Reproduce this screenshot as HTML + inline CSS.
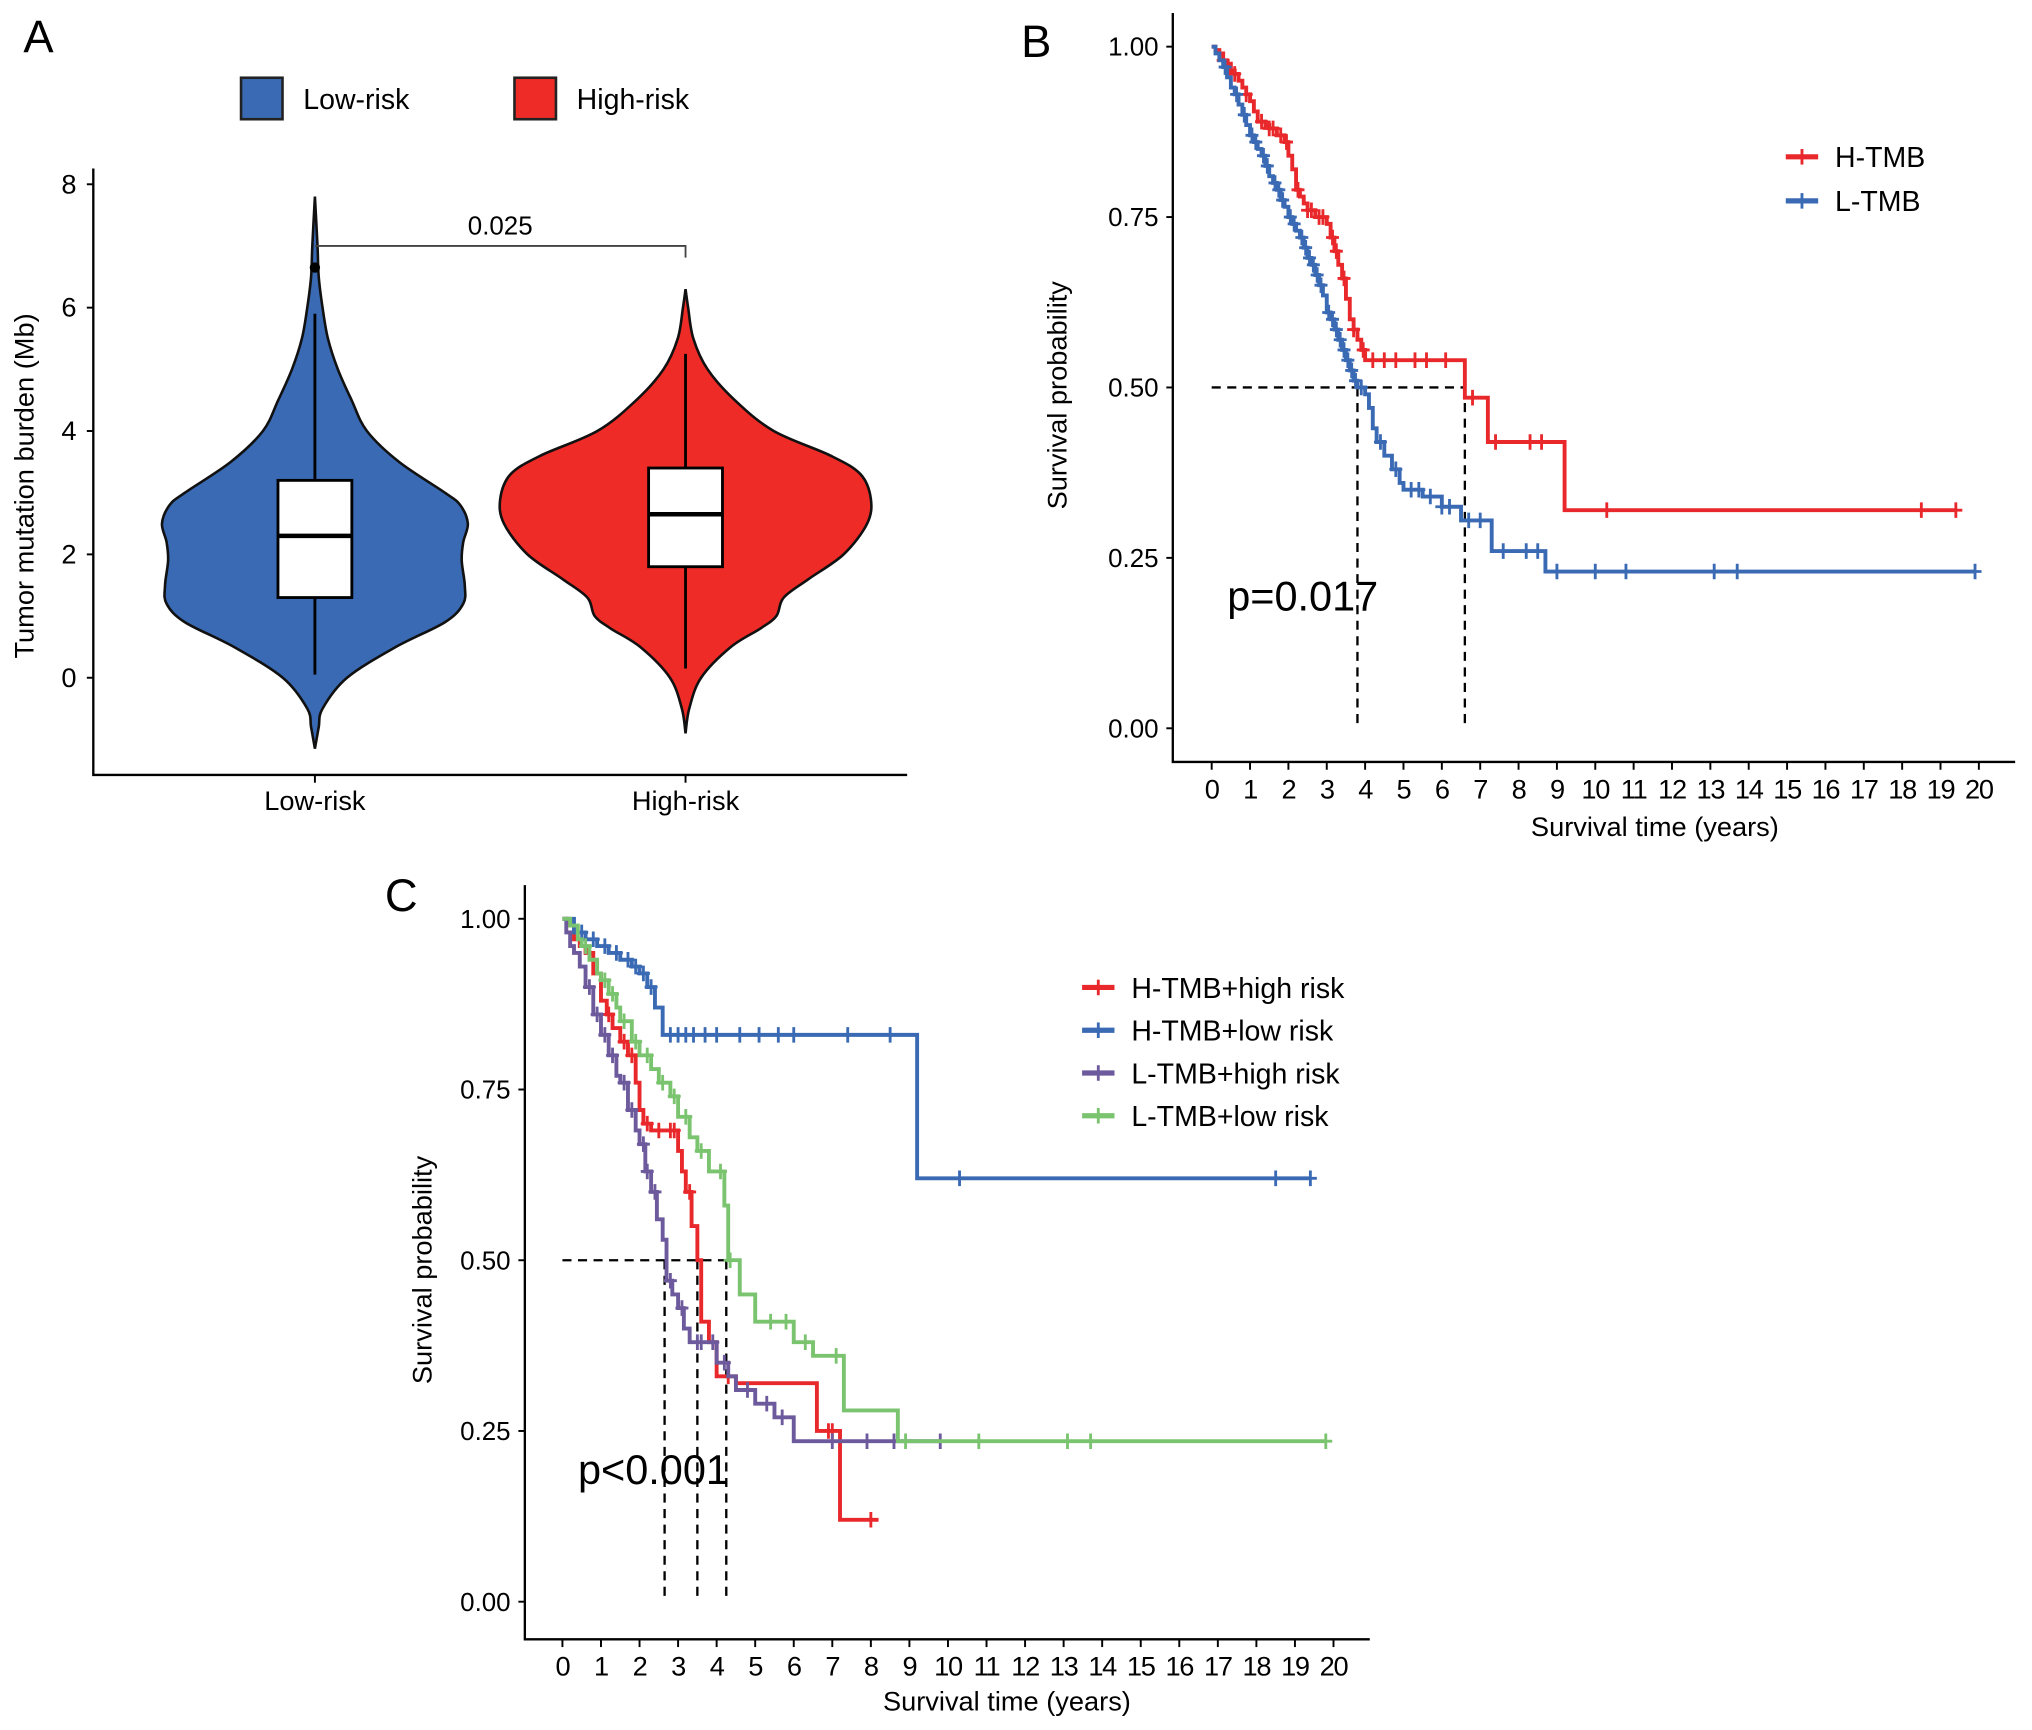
<!DOCTYPE html>
<html><head><meta charset="utf-8"><style>
html,body{margin:0;padding:0;background:#fff;}
svg{display:block;font-family:"Liberation Sans",Arial,sans-serif;}
</style></head><body>
<svg id="fig" width="2032" height="1730" viewBox="0 0 1568 1335" preserveAspectRatio="none" xmlns="http://www.w3.org/2000/svg">
<rect width="1568" height="1335" fill="#fff"/>
</svg>
<script>
// ---------- Panel A data ----------
const violinGroups = ["Low-risk","High-risk"];
const lowViolinVals = [-1.15,-0.8,-0.5,0,0.5,0.9,1.2,1.5,1.9,2.2,2.5,2.8,3.0,3.5,4,4.5,5,5.5,6,6.5,7,7.8];
const lowViolinDens = [0,0.025,0.05,0.21,0.53,0.85,0.97,0.98,0.96,0.97,1.0,0.95,0.85,0.55,0.34,0.24,0.15,0.085,0.05,0.025,0.017,0];
const highViolinVals = [-0.9,-0.5,0,0.5,0.8,1.0,1.3,1.6,2,2.5,2.9,3.3,3.6,4,4.5,5,5.5,6,6.3];
const highViolinDens = [0,0.02,0.084,0.245,0.405,0.49,0.53,0.664,0.853,0.98,1.0,0.944,0.783,0.476,0.266,0.119,0.042,0.014,0];
const boxQ1 = [1.3,1.8], boxMed = [2.3,2.65], boxQ3 = [3.2,3.4];
const whiskLo = [0.05,0.15], whiskHi = [5.9,5.25];
const outliers = [6.65];
const yTicksA = [0,2,4,6,8];
const pValueA = "0.025";

// ---------- Panel B data ----------
const bHT_t = [0.1,0.2,0.3,0.4,0.5,0.6,0.7,0.8,0.9,1.0,1.1,1.2,1.4,1.5,1.7,1.9,2.0,2.1,2.2,2.3,2.4,2.5,2.7,3.0,3.1,3.2,3.3,3.4,3.5,3.6,3.7,3.8,3.9,4.0,6.6,7.2,9.2];
const bHT_s = [0.995,0.99,0.98,0.975,0.965,0.96,0.95,0.94,0.93,0.92,0.905,0.89,0.885,0.88,0.87,0.86,0.84,0.82,0.79,0.78,0.77,0.76,0.75,0.74,0.72,0.70,0.68,0.66,0.63,0.60,0.585,0.57,0.555,0.54,0.485,0.42,0.32];
const bHT_end = 19.4;
const bHT_cens = [0.3,0.6,0.9,1.3,1.5,1.6,1.8,1.95,2.25,2.5,2.6,2.8,2.9,3.15,3.25,3.45,3.7,3.95,4.2,4.5,4.8,5.3,5.6,6.1,6.8,7.4,8.3,8.6,10.3,18.5,19.4];
const bLT_t = [0.1,0.2,0.3,0.4,0.5,0.6,0.7,0.8,0.9,1.0,1.1,1.2,1.3,1.4,1.5,1.6,1.7,1.8,1.9,2.0,2.1,2.2,2.3,2.4,2.5,2.6,2.7,2.8,2.9,3.0,3.1,3.2,3.3,3.4,3.5,3.6,3.7,3.8,4.0,4.1,4.2,4.3,4.5,4.7,4.9,5.0,5.5,6.0,6.5,7.3,8.7];
const bLT_s = [0.99,0.98,0.97,0.955,0.94,0.93,0.915,0.90,0.885,0.87,0.86,0.85,0.84,0.825,0.81,0.80,0.79,0.775,0.765,0.75,0.74,0.73,0.72,0.705,0.69,0.68,0.665,0.65,0.635,0.61,0.60,0.585,0.57,0.555,0.54,0.525,0.51,0.50,0.49,0.47,0.44,0.42,0.40,0.38,0.36,0.35,0.34,0.325,0.305,0.26,0.23];
const bLT_end = 19.9;
const bLT_cens = [0.35,0.65,0.85,1.05,1.15,1.35,1.45,1.65,1.75,1.85,2.05,2.15,2.35,2.45,2.55,2.65,2.75,2.85,3.05,3.15,3.25,3.35,3.45,3.55,3.65,3.75,3.9,4.4,4.8,5.2,5.4,5.7,6.0,6.2,6.7,7.0,7.6,8.2,8.5,9.0,10.0,10.8,13.1,13.7,19.9];
const bMedians = [3.8,6.6];
const xTicksKM = [0,1,2,3,4,5,6,7,8,9,10,11,12,13,14,15,16,17,18,19,20];
const yTicksKM = ["0.00","0.25","0.50","0.75","1.00"];

// ---------- Panel C data ----------
const cHH_t = [0.15,0.3,0.45,0.6,0.8,1.0,1.15,1.3,1.5,1.7,1.9,2.0,2.1,2.3,3.0,3.1,3.2,3.35,3.5,3.6,3.8,4.0,4.5,6.6,7.2];
const cHH_s = [0.99,0.97,0.96,0.95,0.92,0.88,0.86,0.84,0.82,0.80,0.76,0.72,0.70,0.69,0.66,0.63,0.60,0.55,0.50,0.41,0.38,0.33,0.32,0.25,0.12];
const cHH_end = 8.2; const cHH_cens = [1.2,1.6,1.8,2.2,2.5,2.8,2.9,3.3,4.3,6.9,7.0,8.0];
const cHL_t = [0.3,0.6,0.9,1.2,1.5,1.8,2.0,2.2,2.4,2.6,9.2];
const cHL_s = [0.98,0.97,0.96,0.95,0.94,0.93,0.92,0.90,0.87,0.83,0.62];
const cHL_end = 19.4; const cHL_cens = [0.5,0.8,1.1,1.4,1.7,1.9,2.1,2.3,2.8,3.0,3.2,3.4,3.7,4.0,4.6,5.1,5.6,6.0,7.4,8.5,10.3,18.5,19.4];
const cLH_t = [0.1,0.2,0.3,0.45,0.6,0.8,1.0,1.2,1.4,1.5,1.7,1.9,2.0,2.15,2.3,2.45,2.6,2.7,2.85,3.0,3.15,3.3,4.0,4.3,4.5,5.0,5.5,6.0];
const cLH_s = [0.98,0.96,0.95,0.93,0.90,0.86,0.83,0.80,0.77,0.76,0.72,0.69,0.67,0.63,0.60,0.56,0.53,0.47,0.45,0.43,0.40,0.38,0.35,0.33,0.31,0.29,0.27,0.235];
const cLH_end = 9.8; const cLH_cens = [0.7,0.9,1.1,1.3,1.6,1.8,2.1,2.2,2.4,2.8,3.1,3.5,3.6,3.9,4.2,4.8,5.3,5.7,7.0,7.9,8.6,9.8];
const cLL_t = [0.2,0.4,0.5,0.7,0.9,1.0,1.2,1.4,1.5,1.8,2.0,2.3,2.5,2.8,3.0,3.3,3.5,3.8,4.2,4.3,4.6,5.0,6.0,6.5,7.3,8.7];
const cLL_s = [0.99,0.97,0.96,0.94,0.92,0.91,0.89,0.87,0.85,0.82,0.80,0.78,0.76,0.74,0.71,0.68,0.66,0.63,0.58,0.50,0.45,0.41,0.38,0.36,0.28,0.235];
const cLL_end = 19.8; const cLL_cens = [0.6,1.1,1.3,1.6,1.9,2.2,2.6,2.9,3.2,3.6,4.1,4.35,5.4,5.8,6.3,7.1,8.9,10.8,13.1,13.7,19.8];
const cMedians = [2.65,3.5,4.25];

const NS="http://www.w3.org/2000/svg";
const svg=document.getElementById('fig');
function mk(tag,attrs,parent,txt){const e=document.createElementNS(NS,tag);for(const k in attrs)e.setAttribute(k,attrs[k]);if(txt!==undefined)e.textContent=txt;(parent||svg).appendChild(e);return e;}

// ===== Panel A =====
const gA=mk('g',{});  
const ayA=v=>523-47.6*v;
const axA=i=>[243,529][i];
let t=mk('text',{x:18,y:40,'font-size':35},gA,'A');  
const legColsA=['#3a6ab4','#ee2b27'];
violinGroups.forEach((g,i)=>{
  const lx=[186,397][i];
  const le=mk('g',{},gA);  
  mk('rect',{x:lx,y:60,width:32,height:32,fill:legColsA[i],stroke:'#222','stroke-width':2},le);
  mk('text',{x:lx+48,y:84,'font-size':22},le,g);
});
let ax=mk('path',{d:'M72 130 V598 H700',fill:'none',stroke:'#000','stroke-width':1.8},gA);  
yTicksA.forEach(v=>{mk('line',{x1:67,x2:72,y1:ayA(v),y2:ayA(v),stroke:'#000','stroke-width':1.5},gA);
  const tl=mk('text',{x:59,y:ayA(v)+7,'font-size':21,'text-anchor':'end'},gA,String(v));  });
t=mk('text',{x:0,y:0,'font-size':21,'text-anchor':'middle',transform:'translate(26,375) rotate(-90)'},gA,'Tumor mutation burden (Mb)');  
violinGroups.forEach((g,i)=>{mk('line',{x1:axA(i),x2:axA(i),y1:598,y2:604,stroke:'#000','stroke-width':1.5},gA);
  const tl=mk('text',{x:axA(i),y:625,'font-size':21,'text-anchor':'middle'},gA,g);  });
function smoothPath(pts){let d='M'+pts[0][0]+' '+pts[0][1];for(let i=0;i<pts.length-1;i++){const p0=pts[Math.max(0,i-1)],p1=pts[i],p2=pts[i+1],p3=pts[Math.min(pts.length-1,i+2)];
  d+=` C${p1[0]+(p2[0]-p0[0])/6} ${p1[1]+(p2[1]-p0[1])/6} ${p2[0]-(p3[0]-p1[0])/6} ${p2[1]-(p3[1]-p1[1])/6} ${p2[0]} ${p2[1]}`;}return d;}
const maxHalf=[118,143];
[[lowViolinVals,lowViolinDens],[highViolinVals,highViolinDens]].forEach((vd,i)=>{
  const cx=axA(i),vals=vd[0],dens=vd[1];
  const right=vals.map((v,j)=>[cx+dens[j]*maxHalf[i],ayA(v)]);
  const left=vals.map((v,j)=>[cx-dens[j]*maxHalf[i],ayA(v)]).reverse();
  const d=smoothPath(right)+' '+smoothPath(left).replace('M','L')+' Z';
  const vp=mk('path',{d:d,fill:legColsA[i],stroke:'#111','stroke-width':2},gA);  
  const bw=28.5;
  const wl=mk('line',{x1:cx,x2:cx,y1:ayA(whiskLo[i]),y2:ayA(whiskHi[i]),stroke:'#000','stroke-width':2.2},gA);  
  const br=mk('rect',{x:cx-bw,y:ayA(boxQ3[i]),width:bw*2,height:ayA(boxQ1[i])-ayA(boxQ3[i]),fill:'#fff',stroke:'#000','stroke-width':2.2},gA);  
  const ml=mk('line',{x1:cx-bw,x2:cx+bw,y1:ayA(boxMed[i]),y2:ayA(boxMed[i]),stroke:'#000','stroke-width':3.5},gA);  
});
outliers.forEach(o=>{const c=mk('circle',{cx:axA(0),cy:ayA(o),r:4,fill:'#000'},gA);  });
let br=mk('path',{d:`M${axA(0)} ${ayA(7)} H${axA(1)} V${ayA(7)+9}`,fill:'none',stroke:'#444','stroke-width':1.4},gA);  
t=mk('text',{x:(axA(0)+axA(1))/2,y:181,'font-size':20,'text-anchor':'middle'},gA,pValueA);  

// ===== KM helper =====
function kmPanel(opt){
  const g=mk('g',{});  
  const x=v=>opt.x0+(opt.x20-opt.x0)*v/20, y=s=>opt.y0-(opt.y0-opt.y1)*s;
  let l=mk('text',{x:opt.lab[0],y:opt.lab[1],'font-size':35},g,opt.letter);  
  let a=mk('path',{d:`M${opt.ax} ${opt.atop} V${opt.ay} H${opt.aright}`,fill:'none',stroke:'#000','stroke-width':1.8},g);  
  yTicksKM.forEach(s=>{const v=parseFloat(s);mk('line',{x1:opt.ax-5,x2:opt.ax,y1:y(v),y2:y(v),stroke:'#000','stroke-width':1.5},g);
    const tl=mk('text',{x:opt.ax-11,y:y(v)+7,'font-size':20,'text-anchor':'end'},g,s);  });
  xTicksKM.forEach(v=>{mk('line',{x1:x(v),x2:x(v),y1:opt.ay,y2:opt.ay+6,stroke:'#000','stroke-width':1.5},g);
    const tl=mk('text',{x:x(v),y:opt.ay+28,'font-size':21,'text-anchor':'middle','letter-spacing':'-1'},g,String(v));  });
  let xt=mk('text',{x:opt.xt[0],y:opt.xt[1],'font-size':21,'text-anchor':'middle'},g,'Survival time (years)');  
  let yt=mk('text',{x:0,y:0,'font-size':21,'text-anchor':'middle',transform:`translate(${opt.yt[0]},${opt.yt[1]}) rotate(-90)`},g,'Survival probability');  
  const mx=Math.max(...opt.medians);
  let dh=mk('line',{x1:x(0),x2:x(mx),y1:y(0.5),y2:y(0.5),stroke:'#000','stroke-width':1.8,'stroke-dasharray':'7 5'},g);  
  opt.medians.forEach(m=>{const dv=mk('line',{x1:x(m),x2:x(m),y1:y(0.5),y2:y(0),stroke:'#000','stroke-width':1.8,'stroke-dasharray':'7 5'},g);  });
  opt.series.forEach(se=>{
    let d=`M${x(0)} ${y(1)}`;
    se.t.forEach((tt,i)=>{d+=` H${x(tt)} V${y(se.s[i])}`;});
    d+=` H${x(se.end)}`;
    const p=mk('path',{d:d,fill:'none',stroke:se.col,'stroke-width':3},g);  
    const S=tt=>{let v=1;se.t.forEach((q,i)=>{if(q<=tt)v=se.s[i];});return v;};
    se.cens.forEach(c=>{const cx=x(c),cy=y(S(c));
      const m=mk('path',{d:`M${cx-5} ${cy} H${cx+5} M${cx} ${cy-6} V${cy+6}`,stroke:se.col,'stroke-width':2.2},g);  });
  });
  opt.series.forEach((se,i)=>{
    const ly=opt.leg[1]+i*opt.leg[2];
    const le=mk('g',{},g);  
    mk('line',{x1:opt.leg[0],x2:opt.leg[0]+25,y1:ly,y2:ly,stroke:se.col,'stroke-width':4},le);
    mk('line',{x1:opt.leg[0]+12.5,x2:opt.leg[0]+12.5,y1:ly-6,y2:ly+6,stroke:se.col,'stroke-width':2.2},le);
    mk('text',{x:opt.leg[0]+38,y:ly+8,'font-size':22},le,se.label);
  });
  let pt=mk('text',{x:opt.p[0],y:opt.p[1],'font-size':32},g,opt.ptxt);  
}
kmPanel({name:'panel-b-km',letter:'B',lab:[788,44],x0:935,x20:1527,y0:562,y1:36,ax:905,atop:10,ay:588,aright:1555,
  xt:[1277,645],yt:[823,305],medians:bMedians,leg:[1378,121,34],p:[947,471],ptxt:'p=0.017',
  series:[{id:'h-tmb',label:'H-TMB',col:'#e8282b',t:bHT_t,s:bHT_s,end:bHT_end,cens:bHT_cens},
          {id:'l-tmb',label:'L-TMB',col:'#3a6ab4',t:bLT_t,s:bLT_s,end:bLT_end,cens:bLT_cens}]});
kmPanel({name:'panel-c-km',letter:'C',lab:[297,703],x0:434,x20:1029,y0:1236,y1:709,ax:405,atop:683,ay:1265,aright:1057,
  xt:[777,1320],yt:[333,980],medians:cMedians,leg:[835,762,33],p:[446,1145],ptxt:'p<0.001',
  series:[{id:'h-tmb-high-risk',label:'H-TMB+high risk',col:'#e8282b',t:cHH_t,s:cHH_s,end:cHH_end,cens:cHH_cens},
          {id:'h-tmb-low-risk',label:'H-TMB+low risk',col:'#3a6ab4',t:cHL_t,s:cHL_s,end:cHL_end,cens:cHL_cens},
          {id:'l-tmb-high-risk',label:'L-TMB+high risk',col:'#6c5a9c',t:cLH_t,s:cLH_s,end:cLH_end,cens:cLH_cens},
          {id:'l-tmb-low-risk',label:'L-TMB+low risk',col:'#7bc46f',t:cLL_t,s:cLL_s,end:cLL_end,cens:cLL_cens}]});
</script>
</body></html>
